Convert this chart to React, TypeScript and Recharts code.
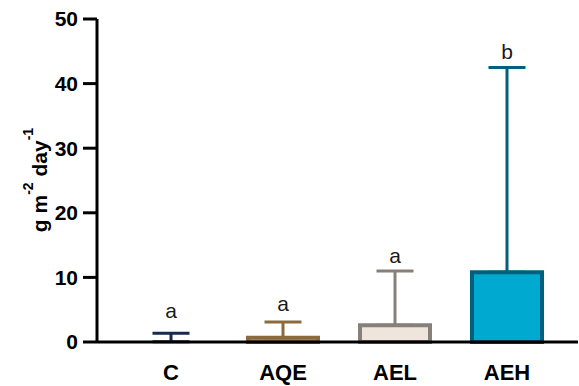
import { BarChart, Bar, XAxis, YAxis, ErrorBar, Cell, ReferenceDot } from "recharts";

const categories = ["C", "AQE", "AEL", "AEH"];
const means = [0.05, 0.65, 2.6, 10.8];
const errors = [1.3, 2.45, 8.4, 31.7];
const letters = ["a", "a", "a", "b"];
const yTicks = [0, 10, 20, 30, 40, 50];

const strokes = ["#17294d", "#8b6a3f", "#858079", "#00607e"];
const barStrokes = ["none", "#8b6a3f", "#858079", "#00607e"];
const fills = ["none", "#d8c1a0", "#efe5dc", "#00a9d0"];
const letterGap = [15, 11, 8, 8];

const FONT = "'Liberation Sans', Arial, Helvetica, sans-serif";

const data = categories.map((name, i) => ({
    name,
    mean: means[i],
    ["err" + i]: [0, errors[i]],
}));

const renderYLabel = () => (
    <text
        x={47}
        y={180}
        transform="rotate(-90 47 180)"
        textAnchor="middle"
        fontFamily={FONT}
        fontWeight={700}
        fontSize={21}
        fill="#000"
    >
        g m<tspan fontSize={14} dy={-14}>-2</tspan>
        <tspan dy={14}>{" day"}</tspan>
        <tspan fontSize={14} dy={-14}>-1</tspan>
    </text>
);

const App = () => {
    return (
        <div style={{ position: "absolute", left: 0, top: 0 }}>
            <BarChart
                width={579}
                height={386}
                data={data}
                margin={{ top: 19, right: 1, left: 0, bottom: 0 }}
            >
                <XAxis
                    dataKey="name"
                    height={44}
                    padding={{ left: 18, right: 15 }}
                    axisLine={{ stroke: "#000", strokeWidth: 3 }}
                    tickLine={false}
                    tickSize={0}
                    tickMargin={22}
                    tick={{ fill: "#000", fontSize: 22, fontWeight: 700, fontFamily: FONT }}
                />
                <YAxis
                    width={97}
                    domain={[0, 50]}
                    ticks={yTicks}
                    interval={0}
                    axisLine={{ stroke: "#000", strokeWidth: 3 }}
                    tickLine={{ stroke: "#000", strokeWidth: 3 }}
                    tickSize={14}
                    tickMargin={5}
                    tick={{ fill: "#000", fontSize: 21, fontWeight: 700, fontFamily: FONT }}
                    label={renderYLabel}
                />
                <Bar dataKey="mean" barSize={70} strokeWidth={4} isAnimationActive={false}>
                    {categories.map((c, i) => (
                        <Cell key={c} fill={fills[i]} stroke={barStrokes[i]} />
                    ))}
                    {categories.map((c, i) => (
                        <ErrorBar
                            key={"e" + c}
                            dataKey={"err" + i}
                            width={18.5}
                            stroke={strokes[i]}
                            strokeWidth={3}
                            direction="y"
                            isAnimationActive={false}
                        />
                    ))}
                </Bar>
                {categories.map((c, i) => (
                    <ReferenceDot
                        key={"l" + c}
                        x={c}
                        y={means[i] + errors[i]}
                        r={0}
                        fill="none"
                        stroke="none"
                        ifOverflow="visible"
                        label={{
                            value: letters[i],
                            position: "top",
                            offset: letterGap[i],
                            fill: "#1a1a1a",
                            fontSize: 21,
                            fontFamily: FONT,
                        }}
                    />
                ))}
            </BarChart>
        </div>
    );
};

export default App;
